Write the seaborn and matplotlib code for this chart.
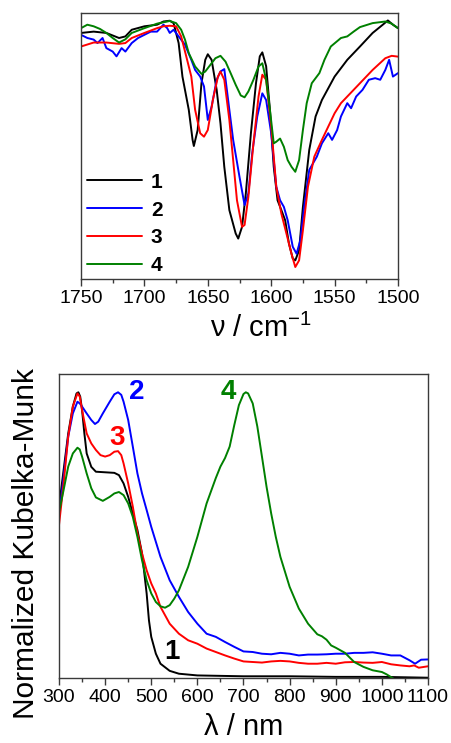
import numpy as np
import pandas as pd
import seaborn as sns
import matplotlib
matplotlib.use("Agg")
import matplotlib.pyplot as plt
from matplotlib.ticker import MultipleLocator

# ---------------- IR data (top panel) ----------------
ir1_x = [1750, 1740, 1730, 1720, 1715, 1710, 1700, 1690, 1685, 1680, 1677, 1673, 1670, 1665, 1662, 1661,
         1658, 1655, 1652, 1650, 1647, 1643, 1640, 1637, 1633, 1628, 1626, 1623, 1620, 1616, 1612, 1609,
         1607, 1604, 1601, 1598, 1595, 1592, 1589, 1586, 1583, 1581, 1578, 1575, 1570, 1565, 1560, 1550,
         1540, 1530, 1520, 1512, 1508, 1504, 1500]
ir1_y = [0.925, 0.93, 0.925, 0.906, 0.912, 0.937, 0.95, 0.956, 0.968, 0.971, 0.962, 0.887, 0.761, 0.636, 0.523, 0.50,
         0.56, 0.736, 0.824, 0.845, 0.824, 0.711, 0.585, 0.422, 0.259, 0.171, 0.152, 0.196, 0.322, 0.548, 0.736, 0.837,
         0.852, 0.80, 0.636, 0.422, 0.296, 0.259, 0.221, 0.133, 0.077, 0.07, 0.108, 0.271, 0.485, 0.611, 0.673, 0.761,
         0.824, 0.874, 0.925, 0.956, 0.972, 0.956, 0.943]

ir2_x = [1750, 1745, 1740, 1737, 1733, 1730, 1725, 1722, 1718, 1715, 1710, 1705, 1700, 1695, 1690, 1685, 1682,
         1680, 1677, 1673, 1668, 1663, 1660, 1656, 1653, 1650, 1647, 1643, 1640, 1637, 1633, 1630, 1625, 1621,
         1618, 1615, 1611, 1607, 1604, 1600, 1596, 1593, 1590, 1587, 1583, 1580, 1577, 1574, 1570, 1567, 1564,
         1560, 1555, 1552, 1548, 1545, 1540, 1537, 1533, 1528, 1523, 1518, 1514, 1510, 1507, 1504, 1500]
ir2_y = [0.918, 0.906, 0.90, 0.887, 0.906, 0.868, 0.855, 0.837, 0.868, 0.855, 0.887, 0.906, 0.918, 0.93, 0.93, 0.956, 0.943,
         0.925, 0.937, 0.912, 0.881, 0.824, 0.786, 0.761, 0.724, 0.598, 0.648, 0.749, 0.78, 0.789, 0.636, 0.523, 0.384, 0.278,
         0.322, 0.472, 0.611, 0.698, 0.673, 0.548, 0.347, 0.296, 0.271, 0.221, 0.121, 0.095, 0.146, 0.271, 0.41, 0.435, 0.46,
         0.51, 0.548, 0.523, 0.56, 0.611, 0.661, 0.642, 0.686, 0.711, 0.749, 0.755, 0.749, 0.786, 0.824, 0.761, 0.774]

ir3_x = [1750, 1740, 1730, 1720, 1715, 1710, 1700, 1690, 1685, 1680, 1675, 1671, 1667, 1663, 1660, 1656, 1653,
         1650, 1646, 1642, 1640, 1637, 1633, 1630, 1627, 1623, 1621, 1618, 1614, 1610, 1607, 1604, 1600, 1596,
         1592, 1588, 1584, 1581, 1578, 1575, 1571, 1566, 1560, 1555, 1550, 1545, 1540, 1530, 1520, 1510, 1505, 1500]
ir3_y = [0.874, 0.889, 0.889, 0.884, 0.887, 0.906, 0.925, 0.943, 0.95, 0.952, 0.95, 0.912, 0.837, 0.761, 0.636, 0.548, 0.535,
         0.56, 0.673, 0.761, 0.78, 0.749, 0.598, 0.447, 0.296, 0.196, 0.203, 0.309, 0.51, 0.686, 0.768, 0.749, 0.573, 0.347,
         0.246, 0.171, 0.095, 0.045, 0.07, 0.183, 0.347, 0.46, 0.523, 0.573, 0.623, 0.661, 0.686, 0.736, 0.786, 0.83, 0.839, 0.836]

ir4_x = [1750, 1745, 1740, 1735, 1730, 1725, 1720, 1715, 1710, 1700, 1690, 1680, 1675, 1671, 1668, 1665, 1660,
         1655, 1652, 1648, 1644, 1640, 1636, 1632, 1628, 1624, 1621, 1618, 1614, 1610, 1607, 1604, 1601, 1598,
         1596, 1593, 1590, 1587, 1584, 1581, 1578, 1575, 1572, 1568, 1565, 1562, 1558, 1553, 1545, 1540, 1535,
         1530, 1520, 1510, 1505, 1500]
ir4_y = [0.943, 0.956, 0.95, 0.94, 0.925, 0.906, 0.889, 0.901, 0.925, 0.943, 0.96, 0.97, 0.962, 0.937, 0.90, 0.849, 0.799,
         0.771, 0.78, 0.805, 0.83, 0.839, 0.817, 0.774, 0.73, 0.69, 0.683, 0.705, 0.749, 0.799, 0.811, 0.749, 0.636, 0.51,
         0.516, 0.528, 0.497, 0.447, 0.422, 0.403, 0.447, 0.56, 0.661, 0.736, 0.755, 0.774, 0.824, 0.874, 0.906, 0.912, 0.93,
         0.947, 0.962, 0.968, 0.96, 0.943]

# ---------------- UV-vis-NIR data (bottom panel) ----------------
uv1_x = [300, 310, 320, 330, 338, 342, 346, 350, 355, 360, 370, 380, 400, 420, 430, 440, 450, 460, 470, 480,
         490, 495, 500, 510, 520, 540, 560, 600, 700, 800, 900, 1000, 1100]
uv1_y = [0.599, 0.728, 0.856, 0.95, 0.996, 1.0, 0.985, 0.938, 0.856, 0.786, 0.739, 0.722, 0.72, 0.718, 0.71, 0.681,
         0.634, 0.576, 0.518, 0.436, 0.296, 0.202, 0.144, 0.085, 0.05, 0.025, 0.015, 0.009, 0.006, 0.006, 0.004, 0.004, 0.001]

uv2_x = [300, 310, 320, 330, 340, 345, 350, 360, 370, 378, 385, 395, 410, 420, 428, 435, 440, 450, 460, 470,
         480, 490, 500, 520, 540, 560, 580, 600, 620, 640, 660, 680, 700, 720, 740, 760, 780, 800, 820, 840,
         860, 880, 900, 920, 940, 960, 980, 1000, 1020, 1040, 1060, 1072, 1085, 1100]
uv2_y = [0.564, 0.704, 0.845, 0.926, 0.967, 0.961, 0.95, 0.926, 0.903, 0.889, 0.897, 0.926, 0.967, 0.993, 1.0, 0.991,
         0.967, 0.903, 0.81, 0.716, 0.646, 0.588, 0.529, 0.424, 0.342, 0.284, 0.231, 0.19, 0.155, 0.144, 0.126, 0.109,
         0.093, 0.091, 0.085, 0.083, 0.088, 0.085, 0.079, 0.082, 0.082, 0.083, 0.085, 0.085, 0.088, 0.088, 0.09, 0.085,
         0.079, 0.079, 0.062, 0.05, 0.064, 0.065]

uv3_x = [300, 310, 320, 330, 340, 345, 350, 360, 370, 380, 390, 400, 410, 420, 428, 435, 440, 450, 460, 470,
         480, 490, 500, 510, 520, 540, 560, 580, 600, 620, 640, 660, 680, 700, 720, 740, 760, 780, 800, 820,
         840, 860, 880, 900, 920, 940, 960, 980, 1000, 1020, 1040, 1060, 1070, 1080, 1100]
uv3_y = [0.535, 0.681, 0.845, 0.95, 0.996, 0.985, 0.938, 0.856, 0.821, 0.798, 0.78, 0.775, 0.78, 0.792, 0.794, 0.78,
         0.751, 0.681, 0.60, 0.506, 0.436, 0.377, 0.331, 0.296, 0.249, 0.19, 0.155, 0.132, 0.12, 0.103, 0.091, 0.079,
         0.068, 0.058, 0.056, 0.054, 0.058, 0.06, 0.058, 0.053, 0.05, 0.05, 0.053, 0.05, 0.055, 0.056, 0.054, 0.053,
         0.056, 0.048, 0.044, 0.041, 0.044, 0.036, 0.041]

uv4_x = [300, 310, 320, 330, 340, 345, 350, 360, 370, 380, 395, 410, 420, 430, 440, 450, 460, 470, 480, 490,
         500, 510, 520, 530, 540, 550, 560, 580, 600, 620, 640, 650, 660, 670, 680, 690, 700, 705, 710, 720,
         730, 740, 750, 760, 770, 780, 800, 820, 840, 860, 870, 880, 890, 900, 920, 940, 960, 980, 1000, 1010,
         1025, 1040]
uv4_y = [0.58, 0.658, 0.74, 0.786, 0.806, 0.80, 0.775, 0.716, 0.664, 0.632, 0.62, 0.634, 0.646, 0.651, 0.64, 0.611,
         0.564, 0.494, 0.412, 0.342, 0.296, 0.266, 0.251, 0.246, 0.255, 0.278, 0.307, 0.389, 0.494, 0.611, 0.70, 0.74,
         0.77, 0.81, 0.885, 0.955, 0.994, 1.0, 0.996, 0.961, 0.88, 0.775, 0.669, 0.576, 0.494, 0.424, 0.319, 0.243,
         0.19, 0.153, 0.146, 0.134, 0.114, 0.106, 0.088, 0.056, 0.039, 0.027, 0.021, 0.013, -0.002, -0.02]

labels = ["1", "2", "3", "4"]
colors = ["#000000", "#0000FF", "#FF0000", "#008000"]
ir_xticks = [1750, 1700, 1650, 1600, 1550, 1500]
uv_xticks = [300, 400, 500, 600, 700, 800, 900, 1000, 1100]

ir_sets = [(ir1_x, ir1_y), (ir2_x, ir2_y), (ir3_x, ir3_y), (ir4_x, ir4_y)]
uv_sets = [(uv1_x, uv1_y), (uv2_x, uv2_y), (uv3_x, uv3_y), (uv4_x, uv4_y)]

ir_df = pd.concat([pd.DataFrame({"x": x, "y": y, "s": lab}) for (x, y), lab in zip(ir_sets, labels)])
uv_df = pd.concat([pd.DataFrame({"x": x, "y": y, "s": lab}) for (x, y), lab in zip(uv_sets, labels)])

sns.set_theme(style="white")
plt.rcParams["font.family"] = ["Liberation Sans", "DejaVu Sans"]
plt.rcParams["mathtext.fontset"] = "custom"
plt.rcParams["mathtext.rm"] = "Liberation Sans"
plt.rcParams["mathtext.it"] = "Liberation Sans:italic"
plt.rcParams["text.color"] = "black"
plt.rcParams["axes.labelcolor"] = "black"
plt.rcParams["xtick.color"] = "black"
plt.rcParams["xtick.labelcolor"] = "black"

W, H = 452, 743
fig = plt.figure(figsize=(W / 100, H / 100), dpi=100)
ax1 = fig.add_axes([81 / W, 1 - 279 / H, 317 / W, 266 / H])
ax2 = fig.add_axes([59 / W, 1 - 678 / H, 369 / W, 304 / H])

palette = dict(zip(labels, colors))

sns.lineplot(data=ir_df, x="x", y="y", hue="s", palette=palette, ax=ax1, lw=1.4, estimator=None, sort=True)
sns.lineplot(data=uv_df, x="x", y="y", hue="s", palette=palette, ax=ax2, lw=1.4, estimator=None, sort=True,
             legend=False)

spine_c = "#3a3a3a"
for ax in (ax1, ax2):
    for sp in ax.spines.values():
        sp.set_color(spine_c)
        sp.set_linewidth(1.0)
        sp.set_visible(True)
    ax.set_yticks([])
    ax.tick_params(axis="x", which="major", direction="out", length=5, width=1.0, color=spine_c,
                   labelsize=14, labelcolor="black", pad=3, bottom=True)
    ax.tick_params(axis="x", which="minor", direction="out", length=3, width=1.0, color=spine_c, bottom=True)
    ax.set_ylabel("")

ax1.set_xlim(1750, 1500)
ax1.set_ylim(0, 1)
ax1.set_xticks(ir_xticks)
ax1.xaxis.set_minor_locator(MultipleLocator(25))
ax1.set_xlabel("ν / cm$^{-1}$", fontsize=21, labelpad=5, x=0.568, color="black")

leg = ax1.legend(loc="lower left", bbox_to_anchor=(0.02, 0.015), frameon=False, fontsize=15,
                 handlelength=2.6, handletextpad=0.45, labelspacing=0.42, borderpad=0, borderaxespad=0)
for t in leg.get_texts():
    t.set_fontweight("bold")
    t.set_color("black")

ax2.set_xlim(300, 1100)
ax2.set_ylim(0, 1.064)
ax2.set_xticks(uv_xticks)
ax2.xaxis.set_minor_locator(MultipleLocator(50))
ax2.set_xlabel("λ / nm", fontsize=21, labelpad=5, color="black")
ax2.set_ylabel("Normalized Kubelka-Munk", fontsize=21.5, color="black")
ax2.yaxis.set_label_coords(-0.0515, 0.442)

label_pos = {"1": (545, 0.09), "2": (468, 1.0), "3": (426, 0.84), "4": (668, 1.0)}
for lab, c in zip(labels, colors):
    x, y = label_pos[lab]
    ax2.text(x, y, lab, color=c, fontsize=20, fontweight="bold", ha="center", va="center")

fig.savefig("out.png", dpi=100)
